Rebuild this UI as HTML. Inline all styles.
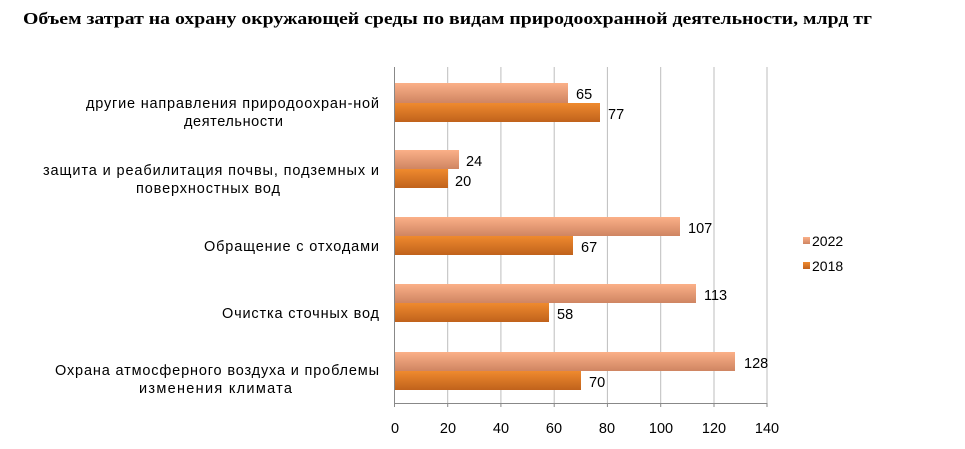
<!DOCTYPE html>
<html><head><meta charset="utf-8"><style>
html,body{margin:0;padding:0;background:#fff;width:965px;height:449px;overflow:hidden}
</style></head><body>
<svg width="965" height="449" xmlns="http://www.w3.org/2000/svg" font-family="'Liberation Sans', sans-serif">
<defs>
<linearGradient id="g22" x1="0" y1="0" x2="0" y2="1"><stop offset="0" stop-color="#fbb088"/><stop offset="1" stop-color="#cf8562"/></linearGradient>
<linearGradient id="g18" x1="0" y1="0" x2="0" y2="1"><stop offset="0" stop-color="#ef8a2e"/><stop offset="1" stop-color="#c0621c"/></linearGradient>
</defs>
<text x="23" y="24" font-family="'Liberation Serif', serif" font-weight="bold" font-size="16.5" textLength="849" lengthAdjust="spacingAndGlyphs">Объем затрат на охрану окружающей среды  по видам природоохранной деятельности, млрд тг</text>
<g stroke="#bdbdbd" stroke-width="1">
<line x1="447.7" y1="67" x2="447.7" y2="403"/><line x1="500.9" y1="67" x2="500.9" y2="403"/><line x1="554.2" y1="67" x2="554.2" y2="403"/><line x1="607.4" y1="67" x2="607.4" y2="403"/><line x1="660.7" y1="67" x2="660.7" y2="403"/><line x1="714" y1="67" x2="714" y2="403"/><line x1="767" y1="67" x2="767" y2="403"/>
</g>
<g stroke="#888" stroke-width="1">
<line x1="394.5" y1="67" x2="394.5" y2="403"/><line x1="394" y1="403.5" x2="767" y2="403.5"/>
<line x1="394.5" y1="403" x2="394.5" y2="407"/><line x1="447.7" y1="403" x2="447.7" y2="407"/><line x1="500.9" y1="403" x2="500.9" y2="407"/><line x1="554.2" y1="403" x2="554.2" y2="407"/><line x1="607.4" y1="403" x2="607.4" y2="407"/><line x1="660.7" y1="403" x2="660.7" y2="407"/><line x1="714" y1="403" x2="714" y2="407"/><line x1="767" y1="403" x2="767" y2="407"/>
</g>
<g font-size="14.5" fill="#000" text-anchor="middle">
<text x="395" y="433">0</text><text x="448" y="433">20</text><text x="501" y="433">40</text><text x="554" y="433">60</text><text x="607" y="433">80</text><text x="661" y="433">100</text><text x="714" y="433">120</text><text x="767" y="433">140</text>
</g>
<g>
<rect x="395" y="83" width="173" height="20" fill="url(#g22)"/><rect x="395" y="103" width="205" height="19" fill="url(#g18)"/>
<rect x="395" y="150" width="64" height="19" fill="url(#g22)"/><rect x="395" y="169" width="53" height="19" fill="url(#g18)"/>
<rect x="395" y="217" width="285" height="19" fill="url(#g22)"/><rect x="395" y="236" width="178" height="19" fill="url(#g18)"/>
<rect x="395" y="284" width="301" height="19" fill="url(#g22)"/><rect x="395" y="303" width="154" height="19" fill="url(#g18)"/>
<rect x="395" y="352" width="340" height="19" fill="url(#g22)"/><rect x="395" y="371" width="186" height="19" fill="url(#g18)"/>
</g>
<g font-size="14.5" fill="#000">
<text x="576" y="99">65</text><text x="608" y="119">77</text>
<text x="466" y="166">24</text><text x="455" y="186">20</text>
<text x="688" y="233">107</text><text x="581" y="252">67</text>
<text x="704" y="300">113</text><text x="557" y="319">58</text>
<text x="744" y="368">128</text><text x="589" y="387">70</text>
</g>
<g font-size="14.5" fill="#000" lengthAdjust="spacing">
<text x="86" y="108" textLength="293">другие направления природоохран-ной</text>
<text x="184" y="126" textLength="99">деятельности</text>
<text x="43" y="175" textLength="336">защита и реабилитация почвы, подземных  и</text>
<text x="136" y="193" textLength="144">поверхностных вод</text>
<text x="204" y="251" textLength="175">Обращение с отходами</text>
<text x="222" y="318" textLength="157">Очистка сточных вод</text>
<text x="55" y="375" textLength="324">Охрана атмосферного воздуха и проблемы</text>
<text x="139" y="393" textLength="153">изменения  климата</text>
</g>
<rect x="803" y="237" width="7" height="7" fill="url(#g22)"/>
<rect x="803" y="262" width="7" height="7" fill="url(#g18)"/>
<g font-size="14" fill="#000"><text x="812" y="246">2022</text><text x="812" y="271">2018</text></g>
</svg>
</body></html>
